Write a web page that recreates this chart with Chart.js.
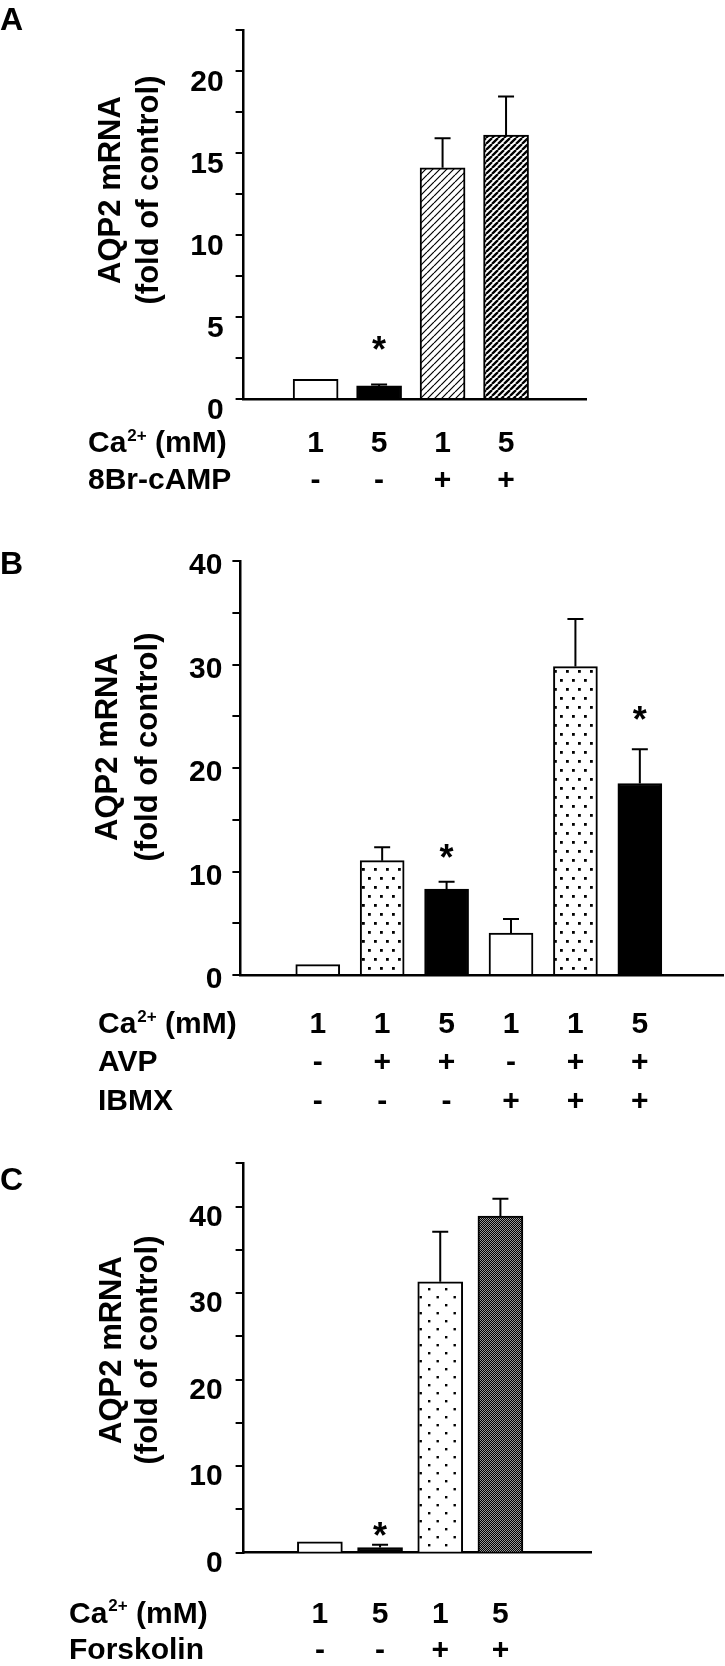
<!DOCTYPE html>
<html><head><meta charset="utf-8">
<script src="https://cdn.jsdelivr.net/npm/chart.js@4"></script>
<style>
html,body{margin:0;padding:0;background:#fff;}
body{width:725px;height:1666px;position:relative;overflow:hidden;}
canvas{position:absolute;left:0;}
</style></head><body>
<canvas id="cA" width="725" height="505" style="top:0px"></canvas>
<canvas id="cB" width="725" height="620" style="top:505px"></canvas>
<canvas id="cC" width="725" height="541" style="top:1125px"></canvas>
<script>
// ---------- data ----------
const panelLetters = ['A', 'B', 'C'];
const yTitleLines = ['AQP2 mRNA', '(fold of control)'];
const caLabelParts = ['Ca', '2+', ' (mM)'];

// Panel A
const caA = ['1', '5', '1', '5'];
const br8cAMP = ['-', '-', '+', '+'];
const meanA = [1.2, 0.8, 14.1, 16.1];
const semA = [0, 0.08, 1.8, 2.35];
const starA = [null, 3.4, null, null];
const tickLabelsA = [0, 5, 10, 15, 20];

// Panel B
const caB = ['1', '1', '5', '1', '1', '5'];
const avpB = ['-', '+', '+', '-', '+', '+'];
const ibmxB = ['-', '-', '-', '+', '+', '+'];
const meanB = [1.0, 11.05, 8.3, 4.06, 29.8, 18.5];
const semB = [0, 1.3, 0.7, 1.36, 4.6, 3.3];
const starB = [null, null, 12.0, null, null, 25.3];
const tickLabelsB = [0, 10, 20, 30, 40];

// Panel C
const caC = ['1', '5', '1', '5'];
const forskolinC = ['-', '-', '+', '+'];
const meanC = [1.25, 0.6, 31.3, 38.9];
const semC = [0, 0.32, 5.8, 2.0];
const starC = [null, 2.7, null, null];
const tickLabelsC = [0, 10, 20, 30, 40];

// ---------- styling ----------
const FONT = '"Liberation Sans", Arial, Helvetica, sans-serif';

function makePattern(kind) {
  const c = document.createElement('canvas');
  const g = c.getContext('2d');
  if (kind === 'hatchLight' || kind === 'hatchDense') {
    const n = kind === 'hatchLight' ? 7 : 6;
    c.width = n; c.height = n;
    g.fillStyle = '#fff'; g.fillRect(0, 0, n, n);
    g.strokeStyle = '#000'; g.lineWidth = kind === 'hatchLight' ? 1.2 : 2.3;
    g.beginPath();
    for (let k = -1; k <= 1; k++) { g.moveTo(k * n, n); g.lineTo(k * n + n, 0); }
    g.stroke();
  } else if (kind === 'dots') {
    c.width = 12; c.height = 18;
    g.fillStyle = '#fff'; g.fillRect(0, 0, 12, 18);
    g.fillStyle = '#000';
    g.fillRect(2, 3, 2.8, 2.8); g.fillRect(8, 12, 2.8, 2.8);
  } else if (kind === 'sparseDots') {
    c.width = 17; c.height = 16;
    g.fillStyle = '#fff'; g.fillRect(0, 0, 17, 16);
    g.fillStyle = '#000';
    g.fillRect(3, 3, 2.4, 2.4); g.fillRect(11.5, 11, 2.4, 2.4);
  } else if (kind === 'darkCheck') {
    c.width = 2; c.height = 2;
    g.fillStyle = '#999'; g.fillRect(0, 0, 2, 2);
    g.fillStyle = '#000'; g.fillRect(0, 0, 1, 1); g.fillRect(1, 1, 1, 1);
  }
  return c;
}
function fillFor(kind, ctx) {
  if (kind === 'white') return '#fff';
  if (kind === 'black') return '#000';
  return ctx.createPattern(makePattern(kind), 'repeat');
}

const panels = [
  { id: 'cA', top: 0, h: 505, letter: panelLetters[0], letterBase: 30,
    area: { left: 243.6, top: 6, right: 586, bottom: 399 },
    yMax: 22.5, yStep: 2.5, shown: tickLabelsA, labelOffset: 11.5, tickPad: 12,
    xMin: 0.315, xMax: 4.81, barW: 45,
    means: meanA, sems: semA, stars: starA,
    fills: ['white', 'black', 'hatchLight', 'hatchDense'],
    rows: [{ label: caLabelParts, vals: caA }, { label: '8Br-cAMP', vals: br8cAMP }],
    rowX: 88, rowY: [444, 481], title: { x1: 111, x2: 149.5, cy: 190 } },
  { id: 'cB', top: 505, h: 620, letter: panelLetters[1], letterBase: 574,
    area: { left: 240.4, top: 561, right: 723.5, bottom: 975 },
    yMax: 40, yStep: 5, shown: tickLabelsB, labelOffset: 5, tickPad: 10,
    xMin: 0.268, xMax: 6.83, barW: 44,
    means: meanB, sems: semB, stars: starB,
    fills: ['white', 'dots', 'black', 'white', 'dots', 'black'],
    rows: [{ label: caLabelParts, vals: caB }, { label: 'AVP', vals: avpB }, { label: 'IBMX', vals: ibmxB }],
    rowX: 98, rowY: [1025, 1063, 1102], title: { x1: 108.6, x2: 148, cy: 747 } },
  { id: 'cC', top: 1125, h: 541, letter: panelLetters[2], letterBase: 1190,
    area: { left: 243.6, top: 1163.3, right: 591.8, bottom: 1552.7 },
    yMax: 45, yStep: 5, shown: tickLabelsC, labelOffset: 11, tickPad: 13,
    xMin: 0.311, xMax: 4.94, barW: 45,
    means: meanC, sems: semC, stars: starC,
    fills: ['white', 'black', 'sparseDots', 'darkCheck'],
    rows: [{ label: caLabelParts, vals: caC }, { label: 'Forskolin', vals: forskolinC }],
    rowX: 69, rowY: [1614.5, 1650.7], title: { x1: 112, x2: 148, cy: 1350 } }
];

function decoPlugin(p) {
  return {
    id: 'deco' + p.id,
    afterDatasetsDraw(chart) {
      const ctx = chart.ctx, ys = chart.scales.y;
      const meta = chart.getDatasetMeta(0);
      ctx.save();
      ctx.strokeStyle = '#000'; ctx.lineWidth = 2;
      p.means.forEach((m, i) => {
        const s = p.sems[i];
        if (!s) return;
        const x = meta.data[i].x;
        const y0 = ys.getPixelForValue(m), y1 = ys.getPixelForValue(m + s);
        ctx.beginPath();
        ctx.moveTo(x, y0); ctx.lineTo(x, y1);
        ctx.moveTo(x - 8, y1); ctx.lineTo(x + 8, y1);
        ctx.stroke();
      });
      ctx.restore();
    },
    afterDraw(chart) {
      const ctx = chart.ctx, xs = chart.scales.x, ys = chart.scales.y;
      const off = p.top;
      ctx.save();
      ctx.fillStyle = '#000';
      // panel letter
      ctx.font = `bold 32px ${FONT}`;
      ctx.textAlign = 'left'; ctx.textBaseline = 'alphabetic';
      ctx.fillText(p.letter, 0, p.letterBase - off);
      // y title (two rotated lines)
      ctx.font = `bold 31px ${FONT}`;
      ctx.textAlign = 'center'; ctx.textBaseline = 'middle';
      [p.title.x1, p.title.x2].forEach((tx, k) => {
        ctx.save();
        ctx.translate(tx, p.title.cy - off);
        ctx.rotate(-Math.PI / 2);
        ctx.fillText(yTitleLines[k], 0, 0);
        ctx.restore();
      });
      // significance stars
      ctx.font = `bold 36px ${FONT}`;
      ctx.textAlign = 'center'; ctx.textBaseline = 'alphabetic';
      const sm = ctx.measureText('*');
      const starShift = (sm.actualBoundingBoxAscent - sm.actualBoundingBoxDescent) / 2;
      p.stars.forEach((v, i) => {
        if (v == null) return;
        ctx.fillText('*', xs.getPixelForValue(i + 1), ys.getPixelForValue(v) + starShift);
      });
      // table rows
      p.rows.forEach((row, r) => {
        const y = p.rowY[r] - off;
        ctx.textBaseline = 'middle';
        ctx.textAlign = 'left';
        if (Array.isArray(row.label)) {
          let x = p.rowX;
          ctx.font = `bold 30px ${FONT}`;
          ctx.fillText(row.label[0], x, y); x += ctx.measureText(row.label[0]).width + 1;
          ctx.font = `bold 17px ${FONT}`;
          ctx.fillText(row.label[1], x, y - 8); x += ctx.measureText(row.label[1]).width;
          ctx.font = `bold 30px ${FONT}`;
          ctx.fillText(row.label[2], x, y);
        } else {
          ctx.font = `bold 30px ${FONT}`;
          ctx.fillText(row.label, p.rowX, y);
        }
        ctx.font = `bold 30px ${FONT}`;
        ctx.textAlign = 'center';
        row.vals.forEach((v, i) => ctx.fillText(v, xs.getPixelForValue(i + 1), y));
      });
      ctx.restore();
    }
  };
}

panels.forEach(p => {
  const canvas = document.getElementById(p.id);
  const ctx = canvas.getContext('2d');
  const a = p.area;
  new Chart(ctx, {
    type: 'bar',
    data: {
      datasets: [{
        data: p.means.map((m, i) => ({ x: i + 1, y: m })),
        backgroundColor: p.fills.map(f => fillFor(f, ctx)),
        borderColor: '#000',
        borderWidth: 2,
        barThickness: p.barW
      }]
    },
    options: {
      responsive: false,
      animation: false,
      layout: {
        autoPadding: false,
        padding: { left: 0, top: a.top - p.top, right: 725 - a.right, bottom: p.h - (a.bottom - p.top) }
      },
      plugins: { legend: { display: false }, tooltip: { enabled: false } },
      scales: {
        x: {
          type: 'linear', min: p.xMin, max: p.xMax,
          ticks: { display: false },
          grid: { display: false },
          border: { display: true, color: '#000', width: 2.5 },
          afterFit: s => { s.height = 0; }
        },
        y: {
          position: 'left', min: 0, max: p.yMax,
          ticks: {
            stepSize: p.yStep, autoSkip: false, color: '#000',
            font: { family: FONT, size: 30, weight: 'bold' },
            padding: p.tickPad, labelOffset: p.labelOffset,
            callback: v => (p.shown.includes(v) ? String(v) : '')
          },
          grid: { display: true, drawOnChartArea: false, drawTicks: true, tickLength: 8, lineWidth: 2, color: '#000' },
          border: { display: true, color: '#000', width: 2.5 },
          afterFit: s => { s.width = a.left; }
        }
      }
    },
    plugins: [decoPlugin(p)]
  });
});
</script>
</body></html>
